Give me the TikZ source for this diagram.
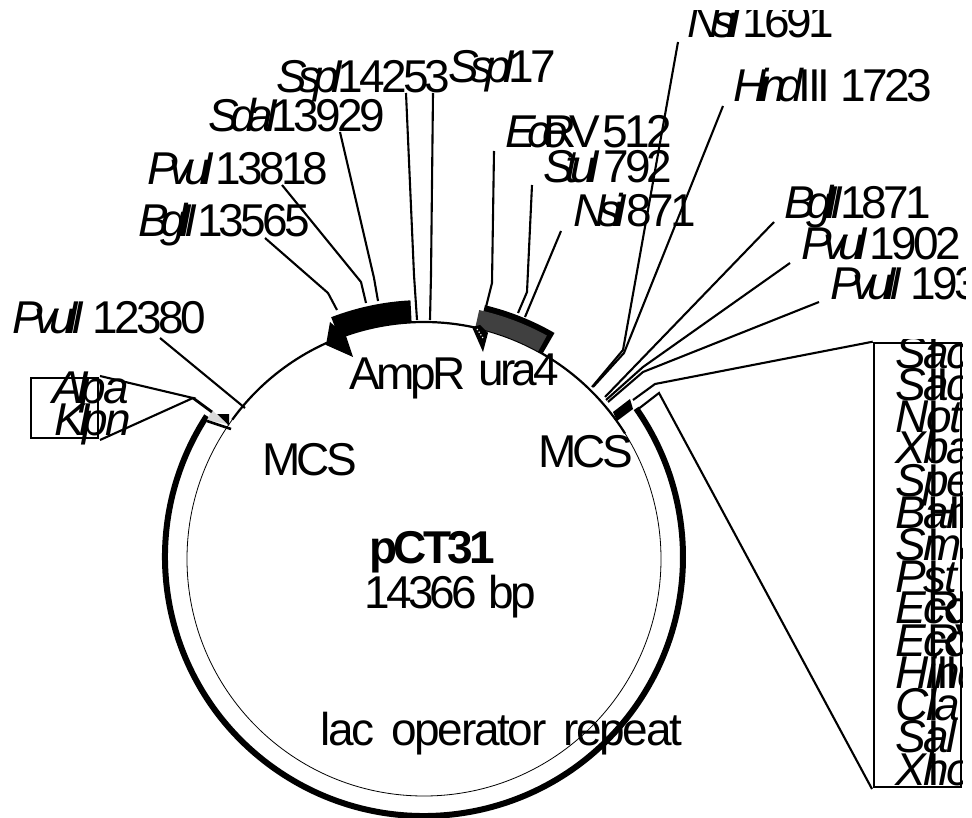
\documentclass[tikz,border=0pt]{standalone}
\usepackage{fontspec}
\setmainfont{Liberation Sans}
\newfontfamily\siterm[LetterSpace=-8,WordSpace=1.2]{Liberation Sans}
\newfontfamily\siteit[LetterSpace=-18,WordSpace=1.2]{Liberation Sans}
\newfontfamily\boxit[LetterSpace=-5]{Liberation Sans}
\newfontfamily\lacrm[LetterSpace=-5,WordSpace=1.6]{Liberation Sans}
\newcommand{\enz}[3][0pt]{{\siteit\itshape #2}\kern#1 #3}
\newcommand{\boxsite}[3][32pt]{\rlap{\boxit\itshape #2}\hspace{#1}#3}
\usetikzlibrary{positioning}

\begin{document}
\begin{tikzpicture}[
  x=1pt,y=-1pt,
  lbl/.style={font=\fontsize{46}{46}\selectfont\siterm,inner sep=0pt,anchor=base west},
  leader/.style={line width=2.1pt,line join=miter},
  framebox/.style={draw,line width=2.6pt,inner sep=0pt},
  ringshift/.style={shift={(424,559)}},
  band/.style={shift={(424,559)},fill=black}
]
\path[use as bounding box] (0,0) rectangle (972,818);
\clip (0,11) rectangle (965,818);

% backbone
\draw[line width=0.8pt,ringshift] (0,0) circle[radius=237];
\draw[line width=2.2pt,ringshift] (-144:237) arc[start angle=-144,end angle=-32,radius=237];
\draw[line width=6pt,shift={(424,557)}] (-147:259) arc[start angle=-147,end angle=-395,radius=259];

% features
\fill[band] (-93:237) arc[start angle=-93,end angle=-111,radius=237] -- (-111:259) arc[start angle=-111,end angle=-93,radius=259] -- cycle;
\fill (330,322) -- (326,345) -- (353,357) -- (346,336) -- cycle;
\fill[band] (-60:237) arc[start angle=-60,end angle=-76.5,radius=237] -- (-76.5:261) arc[start angle=-76.5,end angle=-60,radius=261] -- cycle;
\fill[band,fill=black!75] (-61.2:237) arc[start angle=-61.2,end angle=-77.5,radius=237] -- (-77.5:255) arc[start angle=-77.5,end angle=-61.2,radius=255] -- cycle;
\fill (472,327) -- (483,352) -- (488,333) -- (480,325) -- cycle;
\draw[white,line width=1.2pt,dotted] (477,329) -- (483,338);
\fill (613,412) -- (630,399) -- (633,409) -- (617,421) -- cycle;
\fill (217,414) -- (229,414) -- (229,426) -- cycle;
\fill[black!15] (207,420) -- (212,410) -- (227,424) -- cycle;
\draw[line width=2.6pt] (207,421) -- (231,429);

% labels round the ring
\node[lbl] (nsiA) at (687,38) {\enz[-10pt]{NsiI}{ 1691}};
\node[lbl] (hind) at (733,102) {\enz[-4pt]{Hind}{III 1723}};
\node[lbl] (bglA) at (784,219) {\enz[-14pt]{BglII}{ 1871}};
\node[lbl] (pvuA) at (801,260) {\enz[-10pt]{PvuI}{ 1902}};
\node[lbl] (pvuB) at (830,300) {\enz[-2pt]{PvuII}{ 1934}};
\node[lbl] (sspA) at (276,93) {\enz[-17pt]{SspI}{ 14253}};
\node[lbl] (sspB) at (448,83) {\enz[-18pt]{SspI}{ 17}};
\node[lbl] (sda) at (208,132) {\enz[-17pt]{SdaI}{ 13929}};
\node[lbl] (pvuC) at (147,185) {\enz[-10pt]{PvuI}{ 13818}};
\node[lbl] (bglB) at (138,237) {\enz[-11pt]{BglII}{ 13565}};
\node[lbl] (pvuD) at (12,334) {\enz[-2pt]{PvuII}{ 12380}};
\node[lbl] (eco) at (505,148) {\enz[-24pt]{Eco}{R\kern-8pt V\kern-8pt\ 512}};
\node[lbl] (stu) at (543,183) {\enz[-8pt]{StuI}{ 792}};
\node[lbl] (nsiB) at (573,227) {\enz[-12pt]{NsiI}{ 871}};

% feature names
\node[lbl] (ampr) at (349,389) {AmpR};
\node[lbl] (ura) at (478,385) {ura4};
\node[lbl] (mcsA) at (538,467) {MCS};
\node[lbl] (mcsB) at (262,475) {MCS};
\node[lbl,font=\fontsize{46}{46}\selectfont\siterm\bfseries] (name) at (369,563) {pCT31};
\node[lbl] (size) at (364,608) {14366 bp};
\node[lbl,font=\fontsize{46}{46}\selectfont\lacrm] (lac) at (320,745) {lac operator repeat};

% left site box
\node[framebox,minimum width=67pt,minimum height=60pt] (apabox) at (64.5,408) {};
\node[lbl] (apa) at (52,403) {\boxsite[24pt]{Apa}{\itshape I}};
\node[lbl] (kpn) at (54,435) {\boxsite[24pt]{Kpn}{\itshape I}};

% right site box
\node[framebox,minimum width=87pt,minimum height=444pt] (mcsbox) at (917.5,565) {};
\begin{scope}
\clip (870,340) rectangle (962,790);
\node[lbl] (sacA) at (895,368) {\boxsite{Sac}{I}};
\node[lbl] (sacB) at (895,400) {\boxsite{Sac}{II}};
\node[lbl] (notI) at (895,432) {\boxsite{Not}{I}};
\node[lbl] (xba) at (895,463) {\boxsite{Xba}{I}};
\node[lbl] (spe) at (895,496) {\boxsite{Spe}{I}};
\node[lbl] (bam) at (895,528) {\boxsite{Bam}{HI}};
\node[lbl] (sma) at (895,560) {\boxsite{Sma}{I}};
\node[lbl] (pst) at (895,592) {\boxsite{Pst}{I}};
\node[lbl] (ecoA) at (895,623) {\boxsite{Eco}{RI}};
\node[lbl] (ecoB) at (895,656) {\boxsite{Eco}{RV}};
\node[lbl] (hinB) at (895,688) {\boxsite{Hind}{III}};
\node[lbl] (cla) at (895,720) {\boxsite{Cla}{I}};
\node[lbl] (sal) at (895,752) {\boxsite{Sal}{I}};
\node[lbl] (xho) at (895,785) {\boxsite{Xho}{I}};
\end{scope}

% elbows and free ends of the leaders
\coordinate (nsiAa) at (678,42); \coordinate (nsiAb) at (623,350); \coordinate (nsiAc) at (592,387);
\coordinate (hinda) at (723,106); \coordinate (hindb) at (624,353); \coordinate (hindc) at (593,387);
\coordinate (bglAa) at (774,222); \coordinate (bglAc) at (605,397);
\coordinate (pvuAa) at (790,263); \coordinate (pvuAb) at (643,367); \coordinate (pvuAc) at (606,400);
\coordinate (pvuBa) at (819,302); \coordinate (pvuBb) at (643,372); \coordinate (pvuBc) at (608,402);
\coordinate (bglBa) at (265,238); \coordinate (bglBb) at (328,293); \coordinate (bglBc) at (337,310);
\coordinate (pvuCa) at (282,185); \coordinate (pvuCb) at (361,282); \coordinate (pvuCc) at (366,303);
\coordinate (sdaa) at (340,132); \coordinate (sdab) at (374,278); \coordinate (sdac) at (378,301);
\coordinate (sspAa) at (406,93); \coordinate (sspAb) at (414,275); \coordinate (sspAc) at (417,320);
\coordinate (sspBa) at (433,93); \coordinate (sspBb) at (431,275); \coordinate (sspBc) at (430,320);
\coordinate (ecoa) at (494,151); \coordinate (ecob) at (492,283); \coordinate (ecoc) at (486,307);
\coordinate (stua) at (532,185); \coordinate (stub) at (527,292); \coordinate (stuc) at (518,313);
\coordinate (nsiBa) at (561,231); \coordinate (nsiBc) at (525,317);
\coordinate (pvuDa) at (160,338); \coordinate (pvuDc) at (245,408);
\coordinate (apaa) at (100,376); \coordinate (kpna) at (100,440);
\coordinate (apab) at (193,398); \coordinate (apac) at (212,412);
\coordinate (sacb) at (655,384); \coordinate (sacc) at (633,400);
\coordinate (xhoa) at (872,789); \coordinate (xhob) at (659,393); \coordinate (xhoc) at (637,410);

\draw[leader] (nsiAa) -- (nsiAb) -- (nsiAc);
\draw[leader] (hinda) -- (hindb) -- (hindc);
\draw[leader] (bglAa) -- (bglAc);
\draw[leader] (pvuAa) -- (pvuAb) -- (pvuAc);
\draw[leader] (pvuBa) -- (pvuBb) -- (pvuBc);
\draw[leader] (bglBa) -- (bglBb) -- (bglBc);
\draw[leader] (pvuCa) -- (pvuCb) -- (pvuCc);
\draw[leader] (sdaa) -- (sdab) -- (sdac);
\draw[leader] (sspAa) -- (sspAb) -- (sspAc);
\draw[leader] (sspBa) -- (sspBb) -- (sspBc);
\draw[leader] (ecoa) -- (ecob) -- (ecoc);
\draw[leader] (stua) -- (stub) -- (stuc);
\draw[leader] (nsiBa) -- (nsiBc);
\draw[leader] (pvuDa) -- (pvuDc);
\draw[leader] (apaa) -- (apab) -- (kpna);
\draw[leader,line width=2.8pt] (apab) -- (apac);
\draw[leader] (mcsbox.north west) -- (sacb) -- (sacc);
\draw[leader] (xhoa) -- (xhob) -- (xhoc);
\end{tikzpicture}
\end{document}
